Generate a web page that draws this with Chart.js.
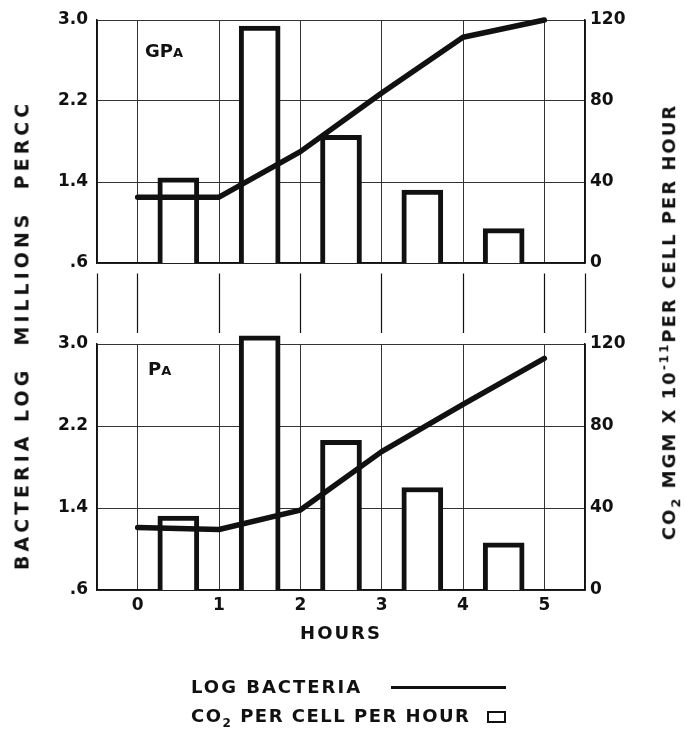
<!DOCTYPE html>
<html>
<head>
<meta charset="utf-8">
<script src="https://cdn.jsdelivr.net/npm/chart.js@4.4.1/dist/chart.umd.min.js"></script>
<style>
  body { margin: 0; background: #fff; }
  #wrap { position: relative; width: 685px; height: 730px; font-family: "DejaVu Sans", sans-serif; font-weight: bold; color: #111; }
  #wrap canvas { position: absolute; left: 0; top: 0; }
  .txt { position: absolute; white-space: nowrap; line-height: 1; }
  .rot { transform: translate(-50%, -50%) rotate(-90deg); }
  .panel { font-size: 18px; }
  .panel small { font-size: 13px; }
  .legend-line { position: absolute; left: 391px; top: 686px; width: 115px; height: 2.5px; background: #111; }
  .legend-box { position: absolute; left: 487px; top: 711px; width: 15px; height: 8px; border: 2.5px solid #111; }
</style>
</head>
<body>
<div id="wrap">
  <canvas id="top" width="685" height="730"></canvas>
  <canvas id="bottom" width="685" height="730"></canvas>
  <div class="txt panel" style="left:145px; top:42px;">GP<small>A</small></div>
  <div class="txt panel" style="left:148px; top:360px;">P<small>A</small></div>
  <div class="txt rot" style="left:22px; top:335px; font-size:19px; letter-spacing:4px;">BACTERIA LOG&nbsp; MILLIONS&nbsp; PERCC</div>
  <div class="txt rot" style="left:670px; top:322px; font-size:18px; letter-spacing:2px;">CO<sub style="font-size:13px;">2</sub> MGM X 10<sup style="font-size:12px;">-11</sup>PER CELL PER HOUR</div>
  <div class="txt" style="left:341px; top:633px; transform:translate(-50%,-50%); font-size:18px; letter-spacing:2px;">HOURS</div>
  <div class="txt" style="left:191px; top:687px; transform:translateY(-50%); font-size:18px; letter-spacing:2px;">LOG BACTERIA</div>
  <div class="legend-line"></div>
  <div class="txt" style="left:191px; top:718px; transform:translateY(-50%); font-size:18px; letter-spacing:1.5px;">CO<sub style="font-size:12px;">2</sub> PER CELL PER HOUR</div>
  <div class="legend-box"></div>
</div>
<script>
// hours for log bacteria, half hours for the CO2 bars
const hours = [0, 1, 2, 3, 4, 5];
const co2Hours = [0.5, 1.5, 2.5, 3.5, 4.5];

// GPA panel (top)
const gpaLogBacteria = [1.25, 1.25, 1.70, 2.28, 2.83, 3.0];
const gpaCo2 = [42, 117, 63, 36, 17];

// PA panel (bottom)
const paLogBacteria = [1.21, 1.19, 1.38, 1.95, 2.41, 2.86];
const paCo2 = [36, 124, 73, 50, 23];

// axis ticks
const xTickValues = [-0.5, 0, 1, 2, 3, 4, 5, 5.5];
const xTickLabels = ["", "0", "1", "2", "3", "4", "5", ""];
const leftTickValues = [0.6, 1.4, 2.2, 3.0];
const leftTickLabels = [".6", "1.4", "2.2", "3.0"];
const rightTickValues = [0, 40, 80, 120];
const rightTickLabels = ["0", "40", "80", "120"];

const ink = "#111";
const gridColor = "#333";
const tickFont = { family: "DejaVu Sans", size: 17, weight: "bold" };

const makePanel = (canvasId, logVals, co2Vals, isTop) => {
  const ctx = document.getElementById(canvasId).getContext("2d");
  return new Chart(ctx, {
    type: "bar",
    data: {
      datasets: [
        {
          type: "line",
          data: hours.map((h, i) => ({ x: h, y: logVals[i] })),
          yAxisID: "y",
          borderColor: ink,
          borderWidth: 5.5,
          pointRadius: 0,
          tension: 0,
          borderCapStyle: "round",
          borderJoinStyle: "round",
          clip: false,
          order: 0,
        },
        {
          type: "bar",
          data: co2Hours.map((h, i) => ({ x: h, y: co2Vals[i] })),
          yAxisID: "y2",
          backgroundColor: "#fff",
          borderColor: ink,
          borderWidth: 5,
          borderSkipped: "start",
          barThickness: 41,
          clip: false,
          order: 1,
        },
      ],
    },
    options: {
      responsive: false,
      animation: false,
      layout: {
        padding: isTop
          ? { top: 20, bottom: 397, left: 40, right: 50 }
          : { top: 344, bottom: 110, left: 40, right: 50 },
      },
      plugins: { legend: { display: false }, tooltip: { enabled: false } },
      scales: {
        x: {
          type: "linear",
          min: -0.5,
          max: 5.5,
          offset: false,
          afterBuildTicks: (scale) => {
            scale.ticks = xTickValues.map((v) => ({ value: v }));
          },
          afterFit: (scale) => {
            scale.height = isTop ? 70 : 30;
          },
          grid: {
            offset: false,
            color: gridColor,
            lineWidth: 1,
            drawTicks: isTop,
            tickLength: 70,
            tickColor: ink,
            tickWidth: 1.2,
            tickBorderDash: [0, 10, 60, 200],
          },
          border: { display: true, color: ink, width: 1.5 },
          ticks: {
            display: !isTop,
            color: ink,
            font: tickFont,
            padding: 5,
            maxRotation: 0,
            autoSkip: false,
            callback: (v, i) => xTickLabels[i],
          },
        },
        y: {
          position: "left",
          min: 0.6,
          max: 3.0,
          afterBuildTicks: (scale) => {
            scale.ticks = leftTickValues.map((v) => ({ value: v }));
          },
          afterFit: (scale) => {
            scale.width = 57;
          },
          grid: { color: gridColor, lineWidth: 1, drawTicks: false },
          border: { display: true, color: ink, width: 1.5 },
          ticks: {
            color: ink,
            font: tickFont,
            padding: 9,
            callback: (v, i) => leftTickLabels[i],
          },
        },
        y2: {
          position: "right",
          min: 0,
          max: 120,
          afterBuildTicks: (scale) => {
            scale.ticks = rightTickValues.map((v) => ({ value: v }));
          },
          afterFit: (scale) => {
            scale.width = 50;
          },
          grid: { display: false, drawTicks: false },
          border: { display: true, color: ink, width: 1.5 },
          ticks: {
            color: ink,
            font: tickFont,
            padding: 5,
            callback: (v, i) => rightTickLabels[i],
          },
        },
      },
    },
  });
};

makePanel("top", gpaLogBacteria, gpaCo2, true);
makePanel("bottom", paLogBacteria, paCo2, false);
</script>
</body>
</html>
